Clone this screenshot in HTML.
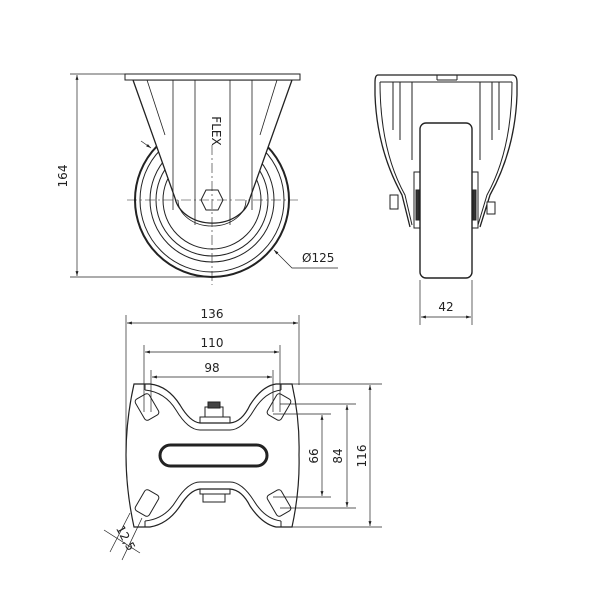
<!DOCTYPE html>
<html><head><style>html,body{margin:0;padding:0;background:#fff}svg{display:block}text{font-family:"DejaVu Sans","Liberation Sans",sans-serif;font-size:12px;fill:#222}</style></head>
<body>
<svg width="600" height="600" viewBox="0 0 600 600" xmlns="http://www.w3.org/2000/svg">
<defs>
<marker id="a" viewBox="0 0 10 10" refX="10" refY="5" markerWidth="7" markerHeight="7" orient="auto-start-reverse"><path d="M0,2 L10,5 L0,8 z" fill="#222"/></marker>
</defs>
<g fill="none" stroke="#222" stroke-width="1">
<line x1="70" y1="74" x2="125" y2="74" stroke-width="0.7"/>
<line x1="70" y1="277" x2="212" y2="277" stroke-width="0.7"/>
<line x1="77" y1="75" x2="77" y2="276" marker-start="url(#a)" marker-end="url(#a)" stroke-width="0.7"/>
<circle cx="212" cy="200" r="77" stroke-width="2"/>
<circle cx="212" cy="200" r="72"/>
<circle cx="212" cy="200" r="62"/>
<circle cx="212" cy="200" r="56"/>
<circle cx="212" cy="200" r="49"/>
<path d="M133,80 L175,198 A38,30 0 0 0 250,198 L292,80 Z" fill="#fff" stroke-width="1.3"/>
<rect x="125" y="74" width="175" height="6" fill="#fff"/>
<g stroke-width="0.8">
<line x1="147" y1="80" x2="165" y2="135"/>
<line x1="173" y1="80" x2="173" y2="210"/>
<line x1="195" y1="80" x2="195" y2="225"/>
<line x1="230" y1="80" x2="230" y2="225"/>
<line x1="252" y1="80" x2="252" y2="210"/>
<line x1="277" y1="80" x2="260" y2="135"/>
<path d="M178,200 A34,26 0 0 0 246,200"/>
</g>
<polygon points="206,190 218,190 223,200 218,210 206,210 201,200" fill="#fff"/>
<g stroke-dasharray="10,3,2,3" stroke-width="0.6">
<line x1="127" y1="200" x2="298" y2="200"/>
<line x1="212" y1="145" x2="212" y2="285"/>
</g>
<polyline points="274,250 292,268 338,268" stroke-width="0.7" marker-start="url(#a)"/>
<line x1="141" y1="141" x2="151" y2="148" stroke-width="0.7" marker-end="url(#a)"/>
<path d="M378,75 L512,75 Q517,75 517,82 L517,95 Q515,150 490,195 L480,227 M378,75 Q375,75 375,82 L375,95 Q377,150 402,195 L410,227" stroke-width="1.3"/>
<path d="M380,82 L512,82 M380,82 Q380,150 405,195 L412,225 M512,82 Q512,150 487,195 L478,225"/>
<line x1="393" y1="82" x2="393" y2="130"/><line x1="400" y1="82" x2="400" y2="140"/><line x1="412" y1="82" x2="412" y2="160"/>
<line x1="499" y1="82" x2="499" y2="130"/><line x1="492" y1="82" x2="492" y2="140"/><line x1="480" y1="82" x2="480" y2="160"/>
<line x1="437" y1="75" x2="437" y2="80"/><line x1="457" y1="75" x2="457" y2="80"/><line x1="437" y1="80" x2="457" y2="80"/>
<rect x="414" y="172" width="7" height="56" fill="#fff"/>
<rect x="471" y="172" width="7" height="56" fill="#fff"/>
<rect x="416" y="190" width="3" height="30" fill="#333"/>
<rect x="473" y="190" width="3" height="30" fill="#333"/>
<rect x="390" y="195" width="8" height="14" fill="#fff"/>
<rect x="487" y="202" width="8" height="12" fill="#fff"/>
<rect x="420" y="123" width="52" height="155" rx="6" fill="#fff" stroke-width="1.4"/>
<g stroke-width="0.7">
<line x1="420" y1="280" x2="420" y2="325"/><line x1="472" y1="280" x2="472" y2="325"/>
<line x1="421" y1="317" x2="471" y2="317" marker-start="url(#a)" marker-end="url(#a)"/>
</g>
<g stroke-width="0.7">
<line x1="126" y1="315" x2="126" y2="455"/><line x1="299" y1="315" x2="299" y2="385"/>
<line x1="127" y1="323" x2="298" y2="323" marker-start="url(#a)" marker-end="url(#a)"/>
<line x1="144" y1="345" x2="144" y2="412"/><line x1="280" y1="345" x2="280" y2="412"/>
<line x1="145" y1="352" x2="279" y2="352" marker-start="url(#a)" marker-end="url(#a)"/>
<line x1="151" y1="370" x2="151" y2="412"/><line x1="273" y1="370" x2="273" y2="412"/>
<line x1="152" y1="377" x2="272" y2="377" marker-start="url(#a)" marker-end="url(#a)"/>
<line x1="292" y1="384" x2="382" y2="384"/><line x1="292" y1="527" x2="382" y2="527"/>
<line x1="370" y1="385" x2="370" y2="526" marker-start="url(#a)" marker-end="url(#a)"/>
<line x1="280" y1="404" x2="356" y2="404"/><line x1="280" y1="508" x2="356" y2="508"/>
<line x1="347" y1="405" x2="347" y2="507" marker-start="url(#a)" marker-end="url(#a)"/>
<line x1="273" y1="414" x2="331" y2="414"/><line x1="273" y1="497" x2="331" y2="497"/>
<line x1="322" y1="415" x2="322" y2="496" marker-start="url(#a)" marker-end="url(#a)"/>
<line x1="104" y1="530" x2="140" y2="553"/>
<line x1="130" y1="513" x2="110" y2="552"/><line x1="142" y1="518" x2="122" y2="560"/>
</g>
<path d="M134,384 L150,384 Q168,386 180,405 Q190,422 200,423 L230,423 Q242,422 250,405 Q262,386 276,384 L292,384 Q300,420 299,455 Q300,490 292,527 L276,527 Q262,524 250,506 Q242,490 230,489 L200,489 Q190,490 180,506 Q168,524 150,527 L134,527 Q126,490 126,455 Q126,420 134,384 Z" stroke-width="1.2"/>
<path d="M145,390 Q165,392 176,410 Q188,430 200,430 L230,430 Q242,430 254,410 Q265,392 281,390"/>
<path d="M145,521 Q165,519 176,501 Q188,482 200,482 L230,482 Q242,482 254,501 Q265,519 281,521"/>
<line x1="145" y1="384" x2="145" y2="390"/><line x1="281" y1="384" x2="281" y2="390"/>
<line x1="145" y1="521" x2="145" y2="527"/><line x1="281" y1="521" x2="281" y2="527"/>
<rect x="200" y="417" width="30" height="6"/>
<rect x="205" y="407" width="18" height="10" fill="#fff"/>
<rect x="208" y="402" width="12" height="6" fill="#444"/>
<rect x="200" y="489" width="30" height="5"/>
<rect x="203" y="494" width="22" height="8"/>
<rect x="160" y="445" width="107" height="21" rx="10.5" stroke-width="3"/>
<g stroke-width="1">
<rect x="-8" y="-12" width="16" height="24" rx="3" transform="translate(147,407) rotate(-30)"/>
<rect x="-8" y="-12" width="16" height="24" rx="3" transform="translate(279,407) rotate(30)"/>
<rect x="-8" y="-12" width="16" height="24" rx="3" transform="translate(147,503) rotate(30)"/>
<rect x="-8" y="-12" width="16" height="24" rx="3" transform="translate(279,503) rotate(-30)"/>
</g>
</g>
<text x="67" y="176" text-anchor="middle" transform="rotate(-90 67 176)">164</text>
<text x="302" y="262">Ø125</text>
<text x="446" y="311" text-anchor="middle">42</text>
<text x="212" y="318" text-anchor="middle">136</text>
<text x="212" y="347" text-anchor="middle">110</text>
<text x="212" y="372" text-anchor="middle">98</text>
<text x="318" y="456" text-anchor="middle" transform="rotate(-90 318 456)">66</text>
<text x="342" y="456" text-anchor="middle" transform="rotate(-90 342 456)">84</text>
<text x="366" y="456" text-anchor="middle" transform="rotate(-90 366 456)">116</text>
<text x="122" y="540" text-anchor="middle" transform="rotate(62 122 540)">12,5</text>
<text x="212" y="131" text-anchor="middle" font-size="6" transform="rotate(90 212 131)">FLEX</text>
</svg>
</body></html>
